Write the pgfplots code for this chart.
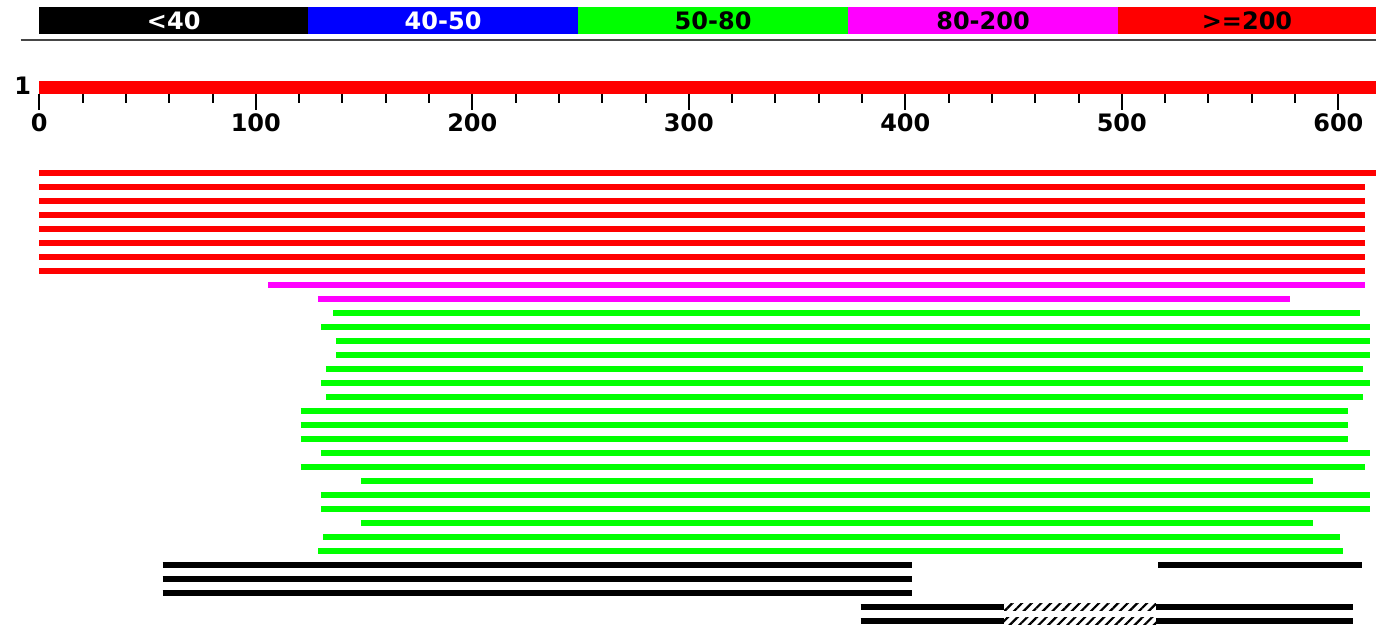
\documentclass[border=0pt]{standalone}
\usepackage{pgfplots}
\pgfplotsset{compat=1.18}
\usepackage{pgfplotstable}
\usepackage{fontspec}
\setmainfont{DejaVu Sans}
\usetikzlibrary{patterns.meta}

\definecolor{bred}{RGB}{255,0,0}
\definecolor{bgreen}{RGB}{0,255,0}
\definecolor{bblue}{RGB}{0,0,255}
\definecolor{bmag}{RGB}{255,0,255}
\definecolor{sepgray}{RGB}{70,70,70}

% hits: pairs of points (start, end) at row y, separated by nan
\pgfplotstableread{
x y
0 173
617.4 173
nan nan
0 187
612.3 187
nan nan
0 201
612.3 201
nan nan
0 215
612.3 215
nan nan
0 229
612.3 229
nan nan
0 243
612.3 243
nan nan
0 257
612.3 257
nan nan
0 271
612.3 271
}\redrows

\pgfplotstableread{
x y
105.8 285
612.3 285
nan nan
128.9 299
577.8 299
}\magrows

\pgfplotstableread{
x y
135.8 313
610.2 313
nan nan
130.1 327
614.6 327
nan nan
137.0 341
614.6 341
nan nan
137.0 355
614.6 355
nan nan
132.4 369
611.3 369
nan nan
130.1 383
614.6 383
nan nan
132.4 397
611.3 397
nan nan
120.7 411
604.3 411
nan nan
120.7 425
604.3 425
nan nan
120.7 439
604.3 439
nan nan
130.1 453
614.6 453
nan nan
120.7 467
612.3 467
nan nan
148.5 481
588.2 481
nan nan
130.1 495
614.6 495
nan nan
130.1 509
614.6 509
nan nan
148.5 523
588.2 523
nan nan
131.2 537
600.8 537
nan nan
128.9 551
602.0 551
}\greenrows

\pgfplotstableread{
x y
57.0 565
403.1 565
nan nan
516.7 565
610.9 565
nan nan
57.0 579
403.1 579
nan nan
57.0 593
403.1 593
nan nan
379.4 607
445.6 607
nan nan
515.8 607
606.7 607
nan nan
379.4 621
445.6 621
nan nan
515.8 621
606.7 621
}\blackrows

% ruler ticks
\pgfplotstableread{
x y
0 94
0 110
nan nan
100 94
100 110
nan nan
200 94
200 110
nan nan
300 94
300 110
nan nan
400 94
400 110
nan nan
500 94
500 110
nan nan
600 94
600 110
}\majorticks

\pgfplotstableread{
x y
20 94
20 103
nan nan
40 94
40 103
nan nan
60 94
60 103
nan nan
80 94
80 103
nan nan
120 94
120 103
nan nan
140 94
140 103
nan nan
160 94
160 103
nan nan
180 94
180 103
nan nan
220 94
220 103
nan nan
240 94
240 103
nan nan
260 94
260 103
nan nan
280 94
280 103
nan nan
320 94
320 103
nan nan
340 94
340 103
nan nan
360 94
360 103
nan nan
380 94
380 103
nan nan
420 94
420 103
nan nan
440 94
440 103
nan nan
460 94
460 103
nan nan
480 94
480 103
nan nan
520 94
520 103
nan nan
540 94
540 103
nan nan
560 94
560 103
nan nan
580 94
580 103
}\minorticks

\begin{document}
\begin{tikzpicture}
\begin{axis}[
  scale only axis,
  width=688pt, height=312.5pt,
  xmin=-18.15, xmax=617.4,
  ymin=0, ymax=625,
  y dir=reverse,
  hide axis,
  unbounded coords=jump,
  clip=true,
]
% colour key
\addplot[draw=none, fill=black] coordinates {(0,6.7) (124.2,6.7) (124.2,34.3) (0,34.3)} -- cycle;
\addplot[draw=none, fill=bblue] coordinates {(124.2,6.7) (248.8,6.7) (248.8,34.3) (124.2,34.3)} -- cycle;
\addplot[draw=none, fill=bgreen] coordinates {(248.8,6.7) (373.5,6.7) (373.5,34.3) (248.8,34.3)} -- cycle;
\addplot[draw=none, fill=bmag] coordinates {(373.5,6.7) (498.2,6.7) (498.2,34.3) (373.5,34.3)} -- cycle;
\addplot[draw=none, fill=bred] coordinates {(498.2,6.7) (640,6.7) (640,34.3) (498.2,34.3)} -- cycle;
\node[font=\bfseries\fontsize{12}{12}\selectfont, text=white] at (axis cs:62.1,20.5) {<40};
\node[font=\bfseries\fontsize{12}{12}\selectfont, text=white] at (axis cs:186.5,20.5) {40-50};
\node[font=\bfseries\fontsize{12}{12}\selectfont, text=black] at (axis cs:311.2,20.5) {50-80};
\node[font=\bfseries\fontsize{12}{12}\selectfont, text=black] at (axis cs:435.9,20.5) {80-200};
\node[font=\bfseries\fontsize{12}{12}\selectfont, text=black] at (axis cs:557.8,20.5) {>=200};
% separator
\addplot[sepgray, line width=1.4pt] coordinates {(-8.6,40) (640,40)};
% query bar
\addplot[bred, line width=6.8pt] coordinates {(0,87.5) (640,87.5)};
\node[font=\bfseries\fontsize{12}{12}\selectfont] at (axis cs:-7.6,85.5) {1};
% ruler
\addplot[black, line width=1pt] table {\majorticks};
\addplot[black, line width=1pt] table {\minorticks};
\pgfplotsinvokeforeach{0,100,200,300,400,500,600}{
  \node[font=\bfseries\fontsize{12}{12}\selectfont] at (axis cs:#1,123) {#1};
}
% hits
\addplot[bred, line width=3.4pt] table {\redrows};
\addplot[bmag, line width=3.4pt] table {\magrows};
\addplot[bgreen, line width=3.4pt] table {\greenrows};
\addplot[black, line width=3.4pt] table {\blackrows};
% hatched gaps
\addplot[draw=none, pattern={Lines[angle=45, distance=3.4pt, line width=1.1pt]}, pattern color=black]
  coordinates {(445.6,603.6) (515.8,603.6) (515.8,610.4) (445.6,610.4)} -- cycle;
\addplot[draw=none, pattern={Lines[angle=45, distance=3.4pt, line width=1.1pt]}, pattern color=black]
  coordinates {(445.6,617.6) (515.8,617.6) (515.8,624.4) (445.6,624.4)} -- cycle;
\end{axis}
\pgfresetboundingbox
\path[use as bounding box] (current axis.south west) rectangle (current axis.north east);
\end{tikzpicture}
\end{document}
